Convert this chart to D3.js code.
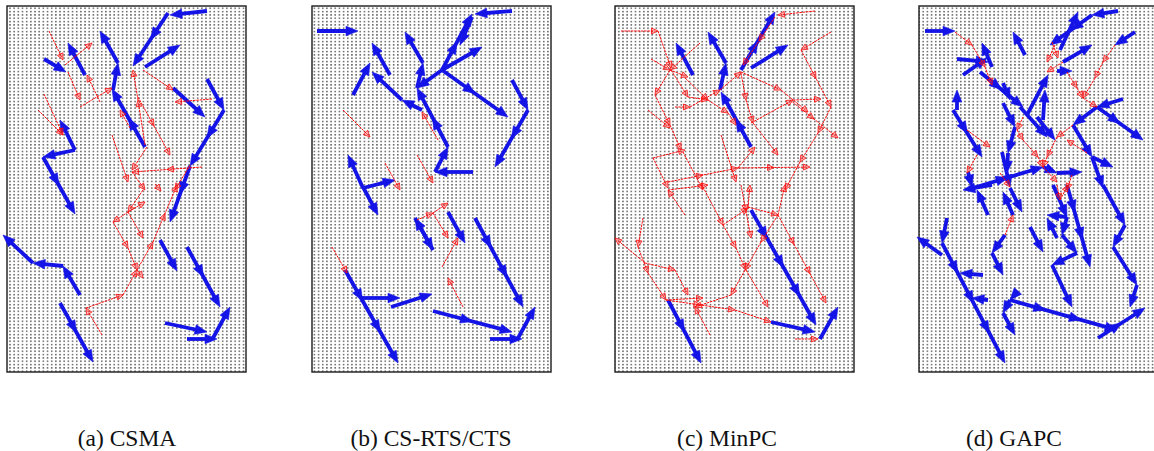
<!DOCTYPE html>
<html>
<head>
<meta charset="utf-8">
<script src="https://cdn.jsdelivr.net/npm/d3@7"></script>
<style>
  html, body { margin: 0; padding: 0; background: #fff; }
  svg { display: block; }
</style>
</head>
<body>
<svg id="chart" width="1154" height="451"></svg>
<script>
// Field coordinates of the simulated area: x in [7, 246], y in [6, 372].
// Each link chain is a list of node positions; every consecutive pair is one
// transmission link drawn as an arrow from the first node to the second.

const captions = ["(a) CSMA", "(b) CS-RTS/CTS", "(c) MinPC", "(d) GAPC"];

// (a) CSMA
const csmaActive = [
  [[207,11],[170,15]], [[168,13],[133,66]], [[145,67],[180,45]],
  [[113,90],[118,63],[100,31]], [[145,147],[112,89]], [[85,75],[68,43]],
  [[44,59],[66,72]], [[207,79],[224,110],[190,166],[170,222]], [[173,88],[205,117]],
  [[75,150],[60,120]], [[75,150],[43,157],[75,214]], [[33,263],[3,235]],
  [[63,266],[33,263]], [[80,295],[63,266]], [[60,303],[93,362]],
  [[160,240],[177,271]], [[187,247],[220,307]], [[165,323],[207,332]],
  [[187,339],[217,339]], [[213,338],[230,307]]
];
const csmaBlocked = [
  [[49,31],[63,60]], [[65,65],[92,43]], [[68,72],[80,100]], [[80,107],[112,88]],
  [[100,102],[87,75]], [[44,94],[63,135]], [[38,110],[63,135]], [[143,70],[173,90]],
  [[212,99],[175,102]], [[145,145],[138,100],[133,70]], [[138,97],[170,155]],
  [[130,128],[120,110]], [[112,135],[128,182]], [[147,147],[132,170]],
  [[202,167],[132,172]], [[190,165],[175,190]], [[132,172],[145,190]],
  [[143,190],[128,212],[145,202]], [[128,212],[113,222],[128,248],[137,270],[143,278]],
  [[128,212],[143,238]], [[86,308],[123,295],[137,270],[153,242],[177,185]],
  [[102,335],[86,308]], [[155,184],[161,191]]
];

// (b) CS-RTS/CTS
const rtsActive = [
  [[12,31],[53,31]], [[207,11],[170,14]], [[137,70],[167,14]], [[167,17],[155,45]],
  [[137,70],[177,47]], [[137,70],[203,117]], [[137,70],[112,88]],
  [[112,88],[118,63],[100,32]], [[143,147],[112,88]], [[130,172],[143,147]],
  [[168,172],[130,172]], [[85,75],[67,43]], [[48,95],[65,63]],
  [[117,110],[97,100],[67,72]], [[207,80],[223,110],[190,167]],
  [[58,188],[43,155]], [[58,188],[90,180]], [[58,187],[73,215]],
  [[110,218],[128,250]], [[128,250],[110,218]], [[143,212],[160,243]],
  [[170,218],[218,307]], [[212,340],[230,307]], [[185,339],[217,339]],
  [[128,311],[207,332]], [[86,307],[127,294]], [[57,298],[95,298]],
  [[40,270],[93,363]]
];
const rtsBlocked = [
  [[38,110],[65,137]], [[133,140],[117,112]], [[80,163],[95,190]],
  [[112,155],[128,183]], [[112,220],[128,213],[143,203]], [[128,213],[143,238]],
  [[137,267],[153,238]], [[158,307],[143,278]], [[27,247],[42,273]]
];

// (c) MinPC
const minpcActive = [
  [[133,70],[167,12]], [[143,68],[180,45]], [[112,90],[118,63],[100,32]],
  [[85,75],[68,43]], [[143,147],[113,92]], [[143,210],[208,325]],
  [[163,322],[207,332]], [[212,339],[230,307]], [[60,300],[93,363]]
];
const minpcBlocked = [
  [[13,31],[50,31],[63,68]], [[43,59],[62,70],[80,77]], [[92,43],[62,70],[47,95]],
  [[63,70],[80,97],[100,100]], [[77,78],[100,100],[120,113],[128,125]],
  [[47,95],[62,125],[73,150]], [[40,110],[62,128]], [[67,107],[82,107]],
  [[82,107],[112,90],[133,72]], [[133,72],[173,90],[200,112]],
  [[133,73],[138,100],[145,123],[170,155]], [[143,123],[185,100],[213,99]],
  [[223,32],[193,50]], [[193,50],[223,107]],
  [[223,107],[210,133],[192,162],[177,190]], [[207,11],[170,15]],
  [[167,17],[135,65]], [[182,100],[230,138]], [[113,135],[128,182]],
  [[45,158],[77,150]], [[45,158],[60,188]], [[60,182],[130,168],[147,147]],
  [[130,168],[202,167]], [[75,152],[95,190]],
  [[77,215],[60,190]], [[60,190],[100,185]],
  [[95,187],[115,225],[128,248],[138,270],[160,307]],
  [[115,225],[140,208],[142,185]], [[140,207],[170,215]], [[170,215],[177,185]],
  [[170,215],[153,242],[137,270],[123,295],[87,307]], [[170,215],[218,303]],
  [[133,185],[143,238]], [[35,218],[30,247],[40,273],[58,300]],
  [[37,263],[7,238]], [[37,263],[67,270],[80,295]], [[58,300],[95,298]],
  [[102,335],[87,307]], [[58,300],[127,310],[163,322]], [[187,339],[210,339]]
];

// (d) GAPC
const gapcActive = [
  [[13,31],[43,31]], [[206,11],[180,15]], [[180,15],[138,45]], [[148,50],[166,12]],
  [[115,115],[136,75]], [[151,62],[180,45]], [[223,32],[203,45]], [[113,55],[101,32]],
  [[45,59],[76,62]], [[80,67],[70,43]], [[51,75],[75,58]], [[68,72],[111,107]],
  [[91,83],[98,100]], [[45,110],[45,90]], [[41,110],[70,157]],
  [[91,103],[103,127],[96,153],[95,173]], [[108,107],[135,137]],
  [[131,120],[133,90]], [[145,71],[160,71]], [[211,99],[185,107]],
  [[185,107],[161,125]], [[185,107],[231,140]], [[161,125],[180,157],[191,188]],
  [[180,157],[201,167]], [[125,117],[143,140]],
  [[61,188],[131,167],[145,173],[170,172]], [[90,152],[98,187]], [[56,172],[60,187]],
  [[80,185],[51,190]], [[76,215],[65,190]], [[101,215],[91,192]], [[98,188],[110,212]],
  [[93,235],[80,253],[91,275]], [[155,217],[135,215]], [[145,238],[135,218]],
  [[141,185],[155,217]], [[155,185],[178,267]],
  [[155,217],[150,235],[165,253],[140,265],[160,307]],
  [[191,185],[213,225],[201,247],[225,285],[218,307]], [[118,227],[131,252]],
  [[30,255],[5,237]], [[35,218],[30,243]], [[30,243],[93,363]],
  [[71,275],[48,273]], [[76,300],[60,298]],
  [[105,292],[98,300],[91,313],[103,335]], [[98,300],[205,330]],
  [[186,338],[233,308]]
];
const gapcBlocked = [
  [[43,32],[60,45],[73,67],[80,85]], [[143,45],[135,62]], [[140,42],[146,58]],
  [[151,62],[135,72]], [[155,72],[165,88],[171,98]],
  [[203,45],[191,62],[183,78],[171,98]], [[171,98],[185,107]],
  [[111,117],[105,130],[111,140],[126,157],[131,167],[145,182]],
  [[161,125],[145,137],[135,157],[131,167]], [[175,153],[155,140]],
  [[55,130],[78,147]], [[65,155],[55,173]], [[88,173],[98,187]],
  [[160,175],[155,190]], [[93,235],[101,215]], [[145,185],[148,200],[156,185]]
];

const activeLinks = [csmaActive, rtsActive, minpcActive, gapcActive];
const blockedLinks = [csmaBlocked, rtsBlocked, minpcBlocked, gapcBlocked];

// ---- layout ----
const panelLeft = [7, 312, 615, 919];
const panelTop = 6, panelW = 239, panelH = 366;
const captionX = [127, 431, 727, 1014];
const captionY = 446;

const svg = d3.select("#chart");
const defs = svg.append("defs");
const pat = defs.append("pattern")
  .attr("id", "dots")
  .attr("patternUnits", "userSpaceOnUse")
  .attr("width", 4.17).attr("height", 3.33);
pat.append("rect").attr("x", 1).attr("y", 1)
  .attr("width", 1.3).attr("height", 1.2).attr("fill", "#111");

const styles = {
  active: { color: "#1414e6", width: 3.8, headLen: 12, headHalf: 4.8, fill: "#1414e6", dash: null, spacing: 34 },
  blocked: { color: "#ff0a0a", width: 1.0, headLen: 6.5, headHalf: 3.0, fill: "rgba(255,40,40,0.3)", dash: "2.5 0.8", spacing: 34 }
};

function drawChains(g, chains, xs, ys, st) {
  chains.forEach(chain => {
    d3.pairs(chain).forEach(([p, q]) => {
      const x1 = xs(p[0]), y1 = ys(p[1]), x2 = xs(q[0]), y2 = ys(q[1]);
      const dx = x2 - x1, dy = y2 - y1, len = Math.hypot(dx, dy);
      const ux = dx / len, uy = dy / len;
      g.append("line")
        .attr("x1", x1).attr("y1", y1)
        .attr("x2", x2 - ux * st.headLen * 0.5).attr("y2", y2 - uy * st.headLen * 0.5)
        .attr("stroke", st.color)
        .attr("stroke-width", st.width)
        .attr("stroke-dasharray", st.dash);
      const n = Math.max(1, Math.round(len / st.spacing));
      for (let k = 1; k <= n; k++) {
        const t = k / n;
        const tx = x1 + dx * t, ty = y1 + dy * t;
        const bx = tx - ux * st.headLen, by = ty - uy * st.headLen;
        const pts = [[tx, ty], [bx - uy * st.headHalf, by + ux * st.headHalf],
                     [bx + uy * st.headHalf, by - ux * st.headHalf]];
        g.append("path")
          .attr("d", "M" + pts.map(p => p.join(",")).join("L") + "Z")
          .attr("fill", st.fill)
          .attr("stroke", st.color)
          .attr("stroke-width", st === styles.active ? 0.6 : 0.8)
          .attr("stroke-linejoin", "miter");
      }
    });
  });
}

panelLeft.forEach((left, i) => {
  const xs = d3.scaleLinear().domain([7, 246]).range([left, left + panelW]);
  const ys = d3.scaleLinear().domain([6, 372]).range([panelTop, panelTop + panelH]);
  const g = svg.append("g");

  g.append("rect")
    .attr("x", left).attr("y", panelTop)
    .attr("width", panelW).attr("height", panelH)
    .attr("fill", "url(#dots)")
    .attr("stroke", "#1a1a1a").attr("stroke-width", 1.4);

  drawChains(g.append("g"), activeLinks[i], xs, ys, styles.active);
  drawChains(g.append("g"), blockedLinks[i], xs, ys, styles.blocked);

  svg.append("text")
    .attr("x", captionX[i]).attr("y", captionY)
    .attr("text-anchor", "middle")
    .attr("font-family", "'Liberation Serif', 'Times New Roman', serif")
    .attr("font-size", 23.5)
    .attr("fill", "#111")
    .text(captions[i]);
});
</script>
</body>
</html>
